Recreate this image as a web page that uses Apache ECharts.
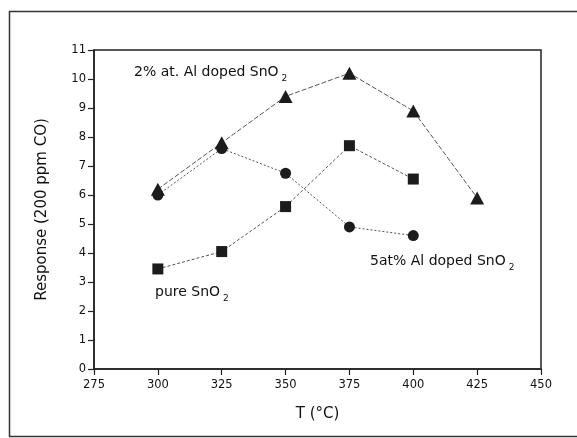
<!doctype html>
<html lang="en">
<head>
    <meta charset="UTF-8">
    <title>Response vs T</title>
    <script type="text/javascript" src="https://cdn.jsdelivr.net/npm/echarts@6/dist/echarts.min.js"></script>
    <style>
        html, body { margin: 0; padding: 0; background: #fff; }
        #main { width: 577px; height: 438px; }
    </style>
</head>
<body>
<div id="main"></div>
<script type="text/javascript">
    // data
    var temps = [300, 325, 350, 375, 400, 425];
    var al2 = [6.2, 7.8, 9.4, 10.2, 8.9, 5.9];     // 2% at. Al doped SnO2 (triangles)
    var al5 = [6.0, 7.6, 6.75, 4.9, 4.6];          // 5at% Al doped SnO2 (circles)
    var pure = [3.45, 4.05, 5.6, 7.7, 6.55];       // pure SnO2 (squares)

    function pairs(ys) {
        return ys.map(function (y, i) { return [temps[i], y]; });
    }

    var font = 'DejaVu Sans';
    var ink = '#111';
    var sub = { fontSize: 9, fontFamily: font, verticalAlign: 'bottom', padding: [13, 0, 0, 3] };

    var myChart = echarts.init(document.getElementById('main'));
    var option = {
        backgroundColor: '#fff',
        animation: false,
        grid: {
            left: 94, right: 36, top: 50, bottom: 69,
            show: true, borderColor: '#222', borderWidth: 1.5
        },
        xAxis: {
            type: 'value', min: 275, max: 450, interval: 25,
            name: 'T (°C)', nameLocation: 'middle', nameGap: 38,
            nameTextStyle: { fontFamily: font, fontSize: 15, color: ink },
            axisLine: { lineStyle: { color: '#222', width: 1.5 } },
            axisTick: { length: 6, lineStyle: { color: '#222', width: 1.2 } },
            axisLabel: { fontFamily: font, fontSize: 11.5, color: ink, margin: 10 },
            splitLine: { show: false }
        },
        yAxis: {
            type: 'value', min: 0, max: 11, interval: 1,
            name: 'Response (200 ppm CO)', nameLocation: 'middle', nameGap: 44, nameRotate: 90,
            nameTextStyle: { fontFamily: font, fontSize: 15, color: ink },
            axisLine: { show: true, lineStyle: { color: '#222', width: 1.5 } },
            axisTick: { show: true, length: 6, lineStyle: { color: '#222', width: 1.2 } },
            axisLabel: { fontFamily: font, fontSize: 11.5, color: ink, margin: 8 },
            splitLine: { show: false }
        },
        series: [
            {
                type: 'line', data: pairs(al2), symbol: 'triangle', symbolSize: [14, 13],
                itemStyle: { color: '#1c1c1c' },
                lineStyle: { color: '#555', width: 1, type: [5, 2] }
            },
            {
                type: 'line', data: pairs(pure), symbol: 'rect', symbolSize: 11,
                itemStyle: { color: '#1c1c1c' },
                lineStyle: { color: '#555', width: 1, type: [3, 2] }
            },
            {
                type: 'line', data: pairs(al5), symbol: 'circle', symbolSize: 11,
                itemStyle: { color: '#1c1c1c' },
                lineStyle: { color: '#555', width: 1, type: [2, 2] }
            }
        ],
        graphic: [
            {
                type: 'rect', silent: true,
                shape: { x: 9.5, y: 11.5, width: 640, height: 425 },
                style: { fill: 'none', stroke: '#333', lineWidth: 1.5 }
            },
            {
                type: 'text', left: 134, top: 65,
                style: { text: '2% at. Al doped SnO{s|2}', font: '14px "DejaVu Sans"', fill: ink, rich: { s: sub } }
            },
            {
                type: 'text', left: 370, top: 254,
                style: { text: '5at% Al doped SnO{s|2}', font: '14px "DejaVu Sans"', fill: ink, rich: { s: sub } }
            },
            {
                type: 'text', left: 155, top: 285,
                style: { text: 'pure SnO{s|2}', font: '14px "DejaVu Sans"', fill: ink, rich: { s: sub } }
            }
        ]
    };
    myChart.setOption(option);
</script>
</body>
</html>
